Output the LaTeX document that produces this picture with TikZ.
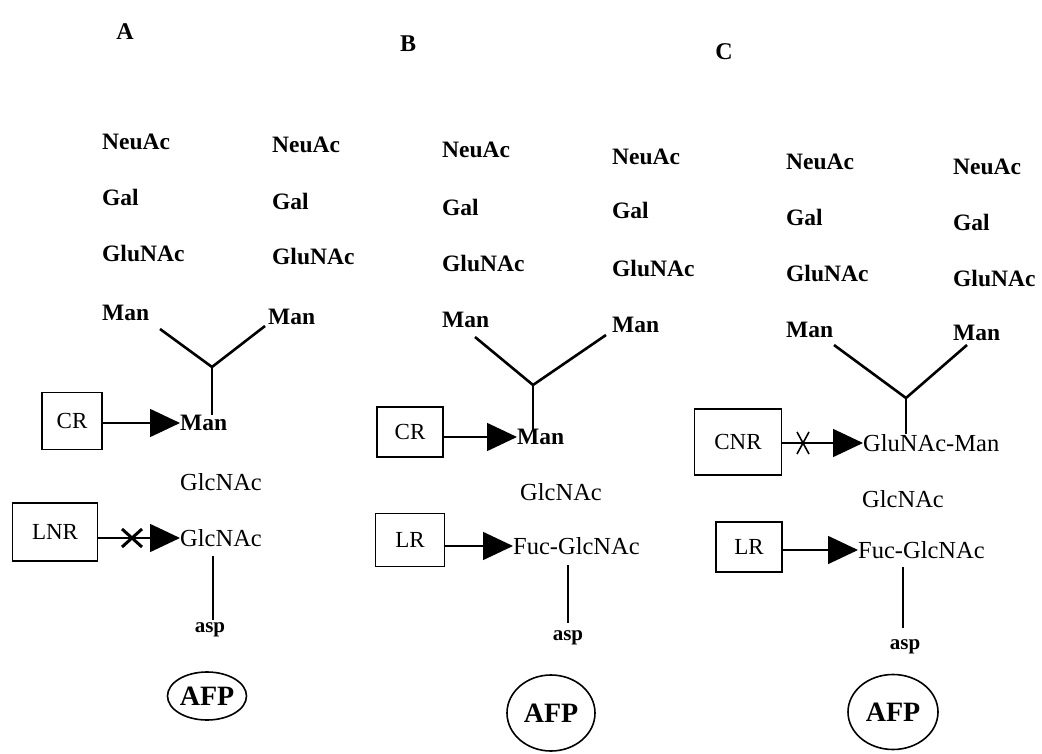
\documentclass[tikz,border=0pt]{standalone}
\usepackage{fontspec}
\setmainfont{Liberation Serif}
\usetikzlibrary{arrows.meta,shapes.geometric}

\begin{document}
\begin{tikzpicture}
      [x=1pt,y=-1pt
    % text and frames
      ,sugar/.style={anchor=west,inner sep=0pt,font=\fontsize{23.5}{26}\selectfont\bfseries}
      ,chain/.style={anchor=west,inner sep=0pt,font=\fontsize{24.5}{27}\selectfont}
      ,tail/.style={inner sep=0pt,font=\fontsize{21}{24}\selectfont\bfseries}
      ,head/.style={inner sep=0pt,font=\fontsize{24}{28}\selectfont\bfseries}
      ,lectin/.style={draw,line width=1.6pt,inner sep=0pt,font=\fontsize{23}{26}\selectfont}
      ,afp/.style={draw,ellipse,line width=1.6pt,inner sep=0pt,font=\fontsize{28}{32}\selectfont\bfseries}
      ,bind/.style={line width=1.6pt,-{Triangle[length=30pt,width=28pt]}}
      ,branch/.style={line width=2.6pt}
      ,stem/.style={line width=1.4pt}
      ]
    % frame of the picture
        \useasboundingbox (0,0) rectangle (1042,754);

    % ---------- A ----------
        \node[head] (hA) at (125,32) {A};
        \node[sugar] (neuA1) at (102,142) {NeuAc};
        \node[sugar] (galA1) at (102,197) {Gal};
        \node[sugar] (gluA1) at (102,253) {GluNAc};
        \node[sugar] (manA1) at (102,313) {Man};
        \node[sugar] (neuA2) at (272,145) {NeuAc};
        \node[sugar] (galA2) at (272,201) {Gal};
        \node[sugar] (gluA2) at (272,256) {GluNAc};
        \node[sugar] (manA2) at (268,317) {Man};
        \coordinate (yA1) at (160,329);
        \coordinate (yA2) at (265,326);
        \coordinate (yA0) at (212,367);
        \node[sugar] (manA) at (180,423) {Man};
        \node[chain] (glcA) at (180,482) {GlcNAc};
        \node[chain] (glcA2) at (180,538) {GlcNAc};
        \node[tail] (aspA) at (210,630) {asp};
        \node[afp,minimum width=79pt,minimum height=48pt] (afpA) at (207,696) {AFP};
        \node[lectin,minimum width=60pt,minimum height=57pt] (crA) at (72,421) {CR};
        \node[lectin,minimum width=85pt,minimum height=58pt] (lnrA) at (55,532) {LNR};
        \draw[branch] (yA1) -- (yA0) -- (yA2);
        \draw[stem] (yA0) -- (yA0 |- manA.north);
        \draw[bind] (crA.east |- manA.west) -- (manA.west);
        \draw[bind] (lnrA.east |- glcA2.west) -- (glcA2.west);
        \coordinate (xA) at (132,538);
        \draw[line width=3pt] (xA) +(-10,-9) -- +(10,9) (xA) +(-10,9) -- +(10,-9);
        \draw[stem] (213,556) -- (213,620);

    % ---------- B ----------
        \node[head] (hB) at (408,44) {B};
        \node[sugar] (neuB1) at (442,150) {NeuAc};
        \node[sugar] (galB1) at (442,207) {Gal};
        \node[sugar] (gluB1) at (442,263) {GluNAc};
        \node[sugar] (manB1) at (442,320) {Man};
        \node[sugar] (neuB2) at (612,157) {NeuAc};
        \node[sugar] (galB2) at (612,210) {Gal};
        \node[sugar] (gluB2) at (612,268) {GluNAc};
        \node[sugar] (manB2) at (612,325) {Man};
        \coordinate (yB1) at (475,337);
        \coordinate (yB2) at (606,335);
        \coordinate (yB0) at (533,385);
        \node[sugar] (manB) at (517,437) {Man};
        \node[chain] (glcB) at (520,492) {GlcNAc};
        \node[chain] (fucB) at (513,546) {Fuc-GlcNAc};
        \node[tail] (aspB) at (568,638) {asp};
        \node[afp,minimum width=88pt,minimum height=76pt] (afpB) at (551,713) {AFP};
        \node[lectin,minimum width=66pt,minimum height=50pt] (crB) at (410,432) {CR};
        \node[lectin,minimum width=69pt,minimum height=53pt] (lrB) at (410,540) {LR};
        \draw[branch] (yB1) -- (yB0) -- (yB2);
        \draw[stem] (yB0) -- (yB0 |- manB.north);
        \draw[bind] (crB.east |- manB.west) -- (manB.west);
        \draw[bind] (lrB.east |- fucB.west) -- (fucB.west);
        \draw[stem] (568,565) -- (568,623);

    % ---------- C ----------
        \node[head] (hC) at (724,52) {C};
        \node[sugar] (neuC1) at (786,162) {NeuAc};
        \node[sugar] (galC1) at (786,217) {Gal};
        \node[sugar] (gluC1) at (786,273) {GluNAc};
        \node[sugar] (manC1) at (786,330) {Man};
        \node[sugar] (neuC2) at (953,167) {NeuAc};
        \node[sugar] (galC2) at (953,222) {Gal};
        \node[sugar] (gluC2) at (953,278) {GluNAc};
        \node[sugar] (manC2) at (953,333) {Man};
        \coordinate (yC1) at (834,345);
        \coordinate (yC2) at (967,345);
        \coordinate (yC0) at (906,398);
        \node[chain] (gmC) at (863,443) {GluNAc-Man};
        \node[chain] (glcC) at (862,499) {GlcNAc};
        \node[chain] (fucC) at (858,550) {Fuc-GlcNAc};
        \node[tail] (aspC) at (905,647) {asp};
        \node[afp,minimum width=90pt,minimum height=75pt] (afpC) at (893,712) {AFP};
        \node[lectin,minimum width=87pt,minimum height=66pt] (cnrC) at (738,442) {CNR};
        \node[lectin,minimum width=66pt,minimum height=50pt] (lrC) at (749,547) {LR};
        \draw[branch] (yC1) -- (yC0) -- (yC2);
        \draw[stem] (yC0) -- (yC0 |- gmC.north);
        \draw[bind] (cnrC.east |- gmC.west) -- (gmC.west);
        \draw[bind] (lrC.east |- fucC.west) -- (fucC.west);
        \coordinate (xC) at (803,443);
        \draw[line width=1.6pt] (xC) +(-6,-11) -- +(6,11) (xC) +(-6,11) -- +(6,-11);
        \draw[stem] (903,567) -- (903,628);
       \end{tikzpicture}
\end{document}
